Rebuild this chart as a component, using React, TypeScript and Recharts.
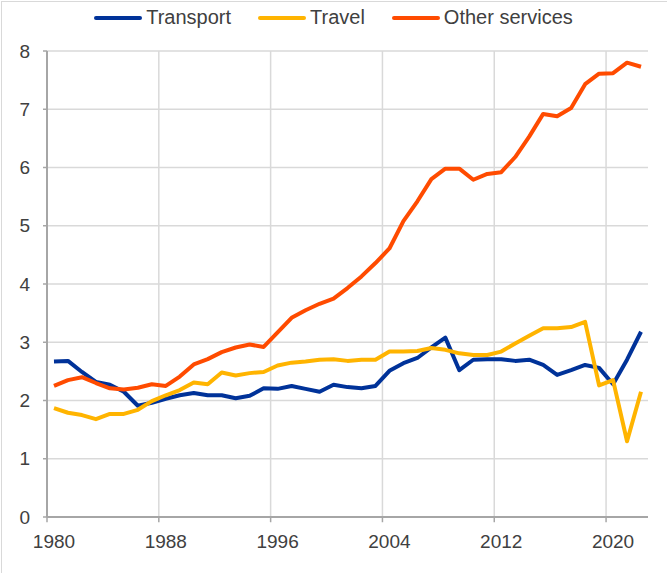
import React from 'react';
import { LineChart, Line, XAxis, YAxis, CartesianGrid, ReferenceLine } from 'recharts';

const years = [
  1980, 1981, 1982, 1983, 1984, 1985, 1986, 1987, 1988, 1989,
  1990, 1991, 1992, 1993, 1994, 1995, 1996, 1997, 1998, 1999,
  2000, 2001, 2002, 2003, 2004, 2005, 2006, 2007, 2008, 2009,
  2010, 2011, 2012, 2013, 2014, 2015, 2016, 2017, 2018, 2019,
  2020, 2021, 2022,
];

const transport = [
  2.67, 2.68, 2.49, 2.32, 2.27, 2.15, 1.91, 1.96, 2.03, 2.09,
  2.13, 2.09, 2.09, 2.04, 2.08, 2.21, 2.2, 2.25, 2.2, 2.15,
  2.27, 2.23, 2.21, 2.25, 2.51, 2.64, 2.73, 2.91, 3.08, 2.52,
  2.7, 2.71, 2.71, 2.68, 2.7, 2.61, 2.44, 2.52, 2.61, 2.56,
  2.28, 2.7, 3.18,
];

const travel = [
  1.87, 1.79, 1.75, 1.68, 1.77, 1.77, 1.84, 1.99, 2.09, 2.18,
  2.31, 2.28, 2.48, 2.43, 2.47, 2.49, 2.6, 2.65, 2.67, 2.7,
  2.71, 2.68, 2.7, 2.7, 2.84, 2.84, 2.85, 2.9, 2.87, 2.81,
  2.78, 2.78, 2.84, 2.98, 3.11, 3.24, 3.24, 3.26, 3.35, 2.26,
  2.35, 1.3, 2.15,
];

const otherServices = [
  2.25, 2.35, 2.4, 2.3, 2.21, 2.19, 2.22, 2.28, 2.25, 2.41,
  2.62, 2.71, 2.83, 2.91, 2.96, 2.92, 3.17, 3.42, 3.55, 3.66,
  3.75, 3.93, 4.13, 4.36, 4.61, 5.08, 5.42, 5.8, 5.98, 5.98,
  5.79, 5.89, 5.92, 6.18, 6.53, 6.92, 6.88, 7.02, 7.43, 7.61,
  7.62, 7.8, 7.73,
];

const yTicks = [0, 1, 2, 3, 4, 5, 6, 7, 8];
const xTicks = [1980, 1988, 1996, 2004, 2012, 2020];

const series = [
  { key: 'transport', name: 'Transport', color: '#003299' },
  { key: 'travel', name: 'Travel', color: '#FFB400' },
  { key: 'other', name: 'Other services', color: '#FF4B00' },
];

const data = years.map((year, i) => ({
  year,
  transport: transport[i],
  travel: travel[i],
  other: otherServices[i],
}));

const FONT = '"Liberation Sans", Arial, sans-serif';
const TEXT = '#404040';
const AXIS = '#a6a6a6';
const GRID = '#d9d9d9';

const ChartLegend = () => (
  <div
    style={{
      position: 'absolute',
      top: 5,
      left: 0,
      width: 667,
      display: 'flex',
      justifyContent: 'center',
      gap: 27,
      fontFamily: FONT,
      fontSize: 20,
      color: TEXT,
      lineHeight: '25px',
    }}
  >
    {series.map((s) => (
      <div key={s.key} style={{ display: 'flex', alignItems: 'center' }}>
        <svg width={48} height={6} style={{ marginRight: 4 }}>
          <line x1={2} y1={3} x2={46} y2={3} stroke={s.color} strokeWidth={4} strokeLinecap="round" />
        </svg>
        <span>{s.name}</span>
      </div>
    ))}
  </div>
);

export default function App() {
  return (
    <div
      style={{
        position: 'absolute',
        left: 0,
        top: 0,
        width: 667,
        height: 573,
        background: '#fff',
        overflow: 'hidden',
      }}
    >
      <div
        style={{
          position: 'absolute',
          left: 1,
          top: 1,
          width: 680,
          height: 600,
          borderLeft: '1px solid #d9d9d9',
          borderTop: '1px solid #d9d9d9',
        }}
      />
      <ChartLegend />
      <LineChart
        width={667}
        height={573}
        data={data}
        margin={{ top: 51, right: 19, left: 0, bottom: 0 }}
      >
        <CartesianGrid vertical={false} stroke={GRID} strokeWidth={1.5} />
        {xTicks.slice(1).map((t) => (
          <ReferenceLine
            key={`g${t}`}
            segment={[{ x: t - 0.5, y: 0 }, { x: t - 0.5, y: 8 }]}
            stroke={GRID}
            strokeWidth={1.5}
            ifOverflow="visible"
          />
        ))}
        {xTicks.map((t) => (
          <ReferenceLine
            key={`t${t}`}
            segment={[{ x: t - 0.5, y: -0.09 }, { x: t - 0.5, y: 0 }]}
            stroke={AXIS}
            strokeWidth={1.5}
            ifOverflow="visible"
          />
        ))}
        <XAxis
          dataKey="year"
          type="number"
          domain={[1979.5, 2022.5]}
          ticks={xTicks}
          tickLine={false}
          tickSize={5}
          tickMargin={13}
          height={56}
          axisLine={{ stroke: AXIS, strokeWidth: 2 }}
          tick={{ fill: TEXT, fontSize: 19, fontFamily: FONT }}
        />
        <YAxis
          type="number"
          domain={[0, 8]}
          ticks={yTicks}
          width={47}
          tickSize={4}
          tickMargin={13}
          axisLine={{ stroke: AXIS, strokeWidth: 2 }}
          tickLine={{ stroke: AXIS, strokeWidth: 1.5 }}
          tick={{ fill: TEXT, fontSize: 19, fontFamily: FONT }}
        />
        {series.map((s) => (
          <Line
            key={s.key}
            type="linear"
            dataKey={s.key}
            name={s.name}
            stroke={s.color}
            strokeWidth={4}
            strokeLinejoin="round"
            dot={false}
            activeDot={false}
            isAnimationActive={false}
          />
        ))}
      </LineChart>
    </div>
  );
}
